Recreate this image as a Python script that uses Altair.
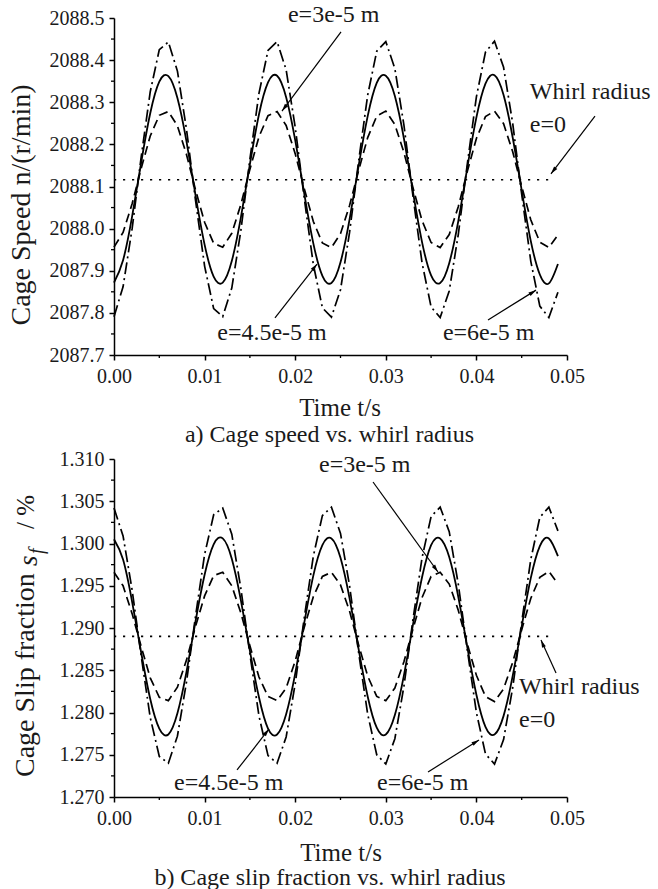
import altair as alt
import pandas as pd

FONT = "Liberation Serif"
INK = "#1a1a1a"

# ---------------- data ----------------
time_s = [0.000, 0.001, 0.002, 0.003, 0.004, 0.005, 0.006, 0.007, 0.008, 0.009,
          0.010, 0.011, 0.012, 0.013, 0.014, 0.015, 0.016, 0.017, 0.018, 0.019,
          0.020, 0.021, 0.022, 0.023, 0.024, 0.025, 0.026, 0.027, 0.028, 0.029,
          0.030, 0.031, 0.032, 0.033, 0.034, 0.035, 0.036, 0.037, 0.038, 0.039,
          0.040, 0.041, 0.042, 0.043, 0.044, 0.045, 0.046, 0.047, 0.048, 0.049]

speed_e3 = [2087.956, 2087.991, 2088.059, 2088.143, 2088.220, 2088.269, 2088.278, 2088.244, 2088.176, 2088.092,
            2088.015, 2087.965, 2087.956, 2087.989, 2088.057, 2088.141, 2088.218, 2088.268, 2088.278, 2088.245,
            2088.178, 2088.095, 2088.017, 2087.966, 2087.955, 2087.988, 2088.055, 2088.138, 2088.216, 2088.267,
            2088.279, 2088.247, 2088.181, 2088.097, 2088.019, 2087.967, 2087.955, 2087.986, 2088.052, 2088.136,
            2088.214, 2088.266, 2088.279, 2088.249, 2088.183, 2088.100, 2088.021, 2087.968, 2087.955, 2087.985]

speed_e45 = [2087.872, 2087.925, 2088.029, 2088.157, 2088.274, 2088.349, 2088.362, 2088.310, 2088.207, 2088.079,
             2087.962, 2087.886, 2087.872, 2087.923, 2088.026, 2088.153, 2088.271, 2088.347, 2088.363, 2088.312,
             2088.210, 2088.083, 2087.965, 2087.888, 2087.871, 2087.920, 2088.022, 2088.149, 2088.267, 2088.346,
             2088.363, 2088.315, 2088.214, 2088.087, 2087.968, 2087.889, 2087.871, 2087.918, 2088.018, 2088.145,
             2088.264, 2088.344, 2088.364, 2088.317, 2088.217, 2088.091, 2087.971, 2087.891, 2087.870, 2087.916]

speed_e6 = [2087.791, 2087.862, 2088.000, 2088.170, 2088.325, 2088.425, 2088.443, 2088.374, 2088.236, 2088.067,
            2087.911, 2087.810, 2087.791, 2087.859, 2087.995, 2088.165, 2088.321, 2088.423, 2088.444, 2088.377,
            2088.241, 2088.072, 2087.915, 2087.812, 2087.790, 2087.855, 2087.991, 2088.160, 2088.317, 2088.421,
            2088.444, 2088.380, 2088.246, 2088.077, 2087.919, 2087.814, 2087.789, 2087.852, 2087.986, 2088.154,
            2088.313, 2088.419, 2088.445, 2088.383, 2088.251, 2088.082, 2087.923, 2087.816, 2087.789, 2087.849]

e0_time = [0.0, 0.0486]
speed_e0 = [2088.116, 2088.116]

slip_e3 = [1.2966, 1.2950, 1.2917, 1.2878, 1.2841, 1.2818, 1.2814, 1.2830, 1.2862, 1.2902,
           1.2938, 1.2962, 1.2966, 1.2950, 1.2918, 1.2879, 1.2842, 1.2819, 1.2814, 1.2829,
           1.2861, 1.2901, 1.2937, 1.2961, 1.2966, 1.2951, 1.2920, 1.2880, 1.2843, 1.2819,
           1.2814, 1.2829, 1.2860, 1.2899, 1.2936, 1.2961, 1.2966, 1.2952, 1.2921, 1.2881,
           1.2844, 1.2819, 1.2813, 1.2828, 1.2859, 1.2898, 1.2935, 1.2960, 1.2967, 1.2952]

slip_e45 = [1.3005, 1.2981, 1.2931, 1.2871, 1.2816, 1.2781, 1.2774, 1.2799, 1.2848, 1.2908,
            1.2963, 1.2999, 1.3006, 1.2982, 1.2933, 1.2873, 1.2818, 1.2781, 1.2774, 1.2798,
            1.2846, 1.2906, 1.2962, 1.2998, 1.3006, 1.2983, 1.2935, 1.2875, 1.2819, 1.2782,
            1.2774, 1.2797, 1.2844, 1.2904, 1.2960, 1.2998, 1.3006, 1.2984, 1.2937, 1.2877,
            1.2821, 1.2783, 1.2774, 1.2796, 1.2843, 1.2902, 1.2959, 1.2997, 1.3006, 1.2985]

slip_e6 = [1.3042, 1.3009, 1.2945, 1.2867, 1.2794, 1.2748, 1.2740, 1.2772, 1.2836, 1.2914,
           1.2987, 1.3034, 1.3042, 1.3011, 1.2947, 1.2869, 1.2796, 1.2749, 1.2740, 1.2771,
           1.2834, 1.2912, 1.2985, 1.3033, 1.3043, 1.3012, 1.2950, 1.2871, 1.2798, 1.2750,
           1.2739, 1.2769, 1.2831, 1.2910, 1.2983, 1.3032, 1.3043, 1.3014, 1.2952, 1.2874,
           1.2800, 1.2751, 1.2739, 1.2768, 1.2829, 1.2907, 1.2981, 1.3031, 1.3043, 1.3015]

slip_e0 = [1.289, 1.289]

series_names = ["e=3e-5 m", "e=4.5e-5 m", "e=6e-5 m", "e=0"]
series_dash = [[9, 5], [1, 0], [12, 4, 2, 4], [2.2, 6.8]]

time_ticks = [0.00, 0.01, 0.02, 0.03, 0.04, 0.05]
time_minor = [0.005, 0.015, 0.025, 0.035, 0.045]
speed_ticks = [2087.7, 2087.8, 2087.9, 2088.0, 2088.1, 2088.2, 2088.3, 2088.4, 2088.5]
speed_minor = [2087.75, 2087.85, 2087.95, 2088.05, 2088.15, 2088.25, 2088.35, 2088.45]
slip_ticks = [1.270, 1.275, 1.280, 1.285, 1.290, 1.295, 1.300, 1.305, 1.310]
slip_minor = [1.2725, 1.2775, 1.2825, 1.2875, 1.2925, 1.2975, 1.3025, 1.3075]

# annotation labels (position in data units) and arrows (start -> tip, heading in degrees)
speed_labels = ["e=3e-5 m", "Whirl radius", "e=0", "e=4.5e-5 m", "e=6e-5 m"]
speed_label_t = [0.0192, 0.0459, 0.0459, 0.0114, 0.0363]
speed_label_v = [2088.506, 2088.324, 2088.246, 2087.752, 2087.752]
speed_arrow_t0 = [0.02506, 0.05309, 0.01777, 0.04128]
speed_arrow_v0 = [2088.467, 2088.267, 2087.788, 2087.783]
speed_arrow_t1 = [0.01854, 0.04823, 0.02241, 0.04658]
speed_arrow_v1 = [2088.279, 2088.130, 2087.916, 2087.854]
speed_arrow_ang = [216.7, 218.2, 37.9, 58.0]

slip_labels = ["e=3e-5 m", "Whirl radius", "e=0", "e=4.5e-5 m", "e=6e-5 m"]
slip_label_t = [0.02263, 0.0447, 0.0447, 0.00662, 0.02903]
slip_label_v = [1.30929, 1.28302, 1.27911, 1.27167, 1.27167]
slip_arrow_t0 = [0.02859, 0.04879, 0.01358, 0.03466]
slip_arrow_v0 = [1.30728, 1.28468, 1.27320, 1.27296]
slip_arrow_t1 = [0.03576, 0.04713, 0.01711, 0.04029]
slip_arrow_v1 = [1.29663, 1.28858, 1.27805, 1.27675]
slip_arrow_ang = [144.2, 337.4, 38.0, 57.9]

W = 453
H_TOP = 337
H_BOT = 338
ARROW = "M0,0L0.33,1.25L-0.33,1.25Z"


def series_frame(vals_list, times_list):
    frames = []
    for name, vals, ts in zip(series_names, vals_list, times_list):
        frames.append(pd.DataFrame({"t": ts, "v": vals, "series": name}))
    return pd.concat(frames, ignore_index=True)


def panel(df, ydomain, yticks, yminor, yfmt, H, labels, lt, lv, a_t0, a_v0, a_t1, a_v1, a_ang,
          title_layers, anchor):
    xscale = alt.Scale(domain=[0, 0.05], nice=False, zero=False)
    yscale = alt.Scale(domain=ydomain, nice=False, zero=False)
    xaxis = alt.Axis(values=time_ticks, format=".2f", title=None, labelFlush=False,
                     labelPadding=6)
    yaxis = alt.Axis(values=yticks, format=yfmt, title=None, labelPadding=5)

    def X(f):
        return alt.X(f, scale=xscale, axis=xaxis)

    def Y(f):
        return alt.Y(f, scale=yscale, axis=yaxis)

    curves = df[df["series"] != "e=4.5e-5 m"]
    solid = df[df["series"] == "e=4.5e-5 m"]
    dash_enc = alt.StrokeDash("series:N",
                              scale=alt.Scale(domain=series_names, range=series_dash),
                              legend=None)
    lines = alt.Chart(curves).mark_line(strokeWidth=1.7, color="black", clip=False).encode(
        x=X("t:Q"), y=Y("v:Q"), strokeDash=dash_enc)
    solid_l = alt.Chart(solid).mark_line(strokeWidth=1.8, color="black", clip=False,
                                         interpolate="natural").encode(
        x=X("t:Q"), y=Y("v:Q"))
    yminor_l = alt.Chart(pd.DataFrame({"v": yminor})).mark_rule(color="black", strokeWidth=1.3).encode(
        y=Y("v:Q"), x=alt.value(-3), x2=alt.value(0))
    xminor_l = alt.Chart(pd.DataFrame({"t": time_minor})).mark_rule(color="black", strokeWidth=1.3).encode(
        x=X("t:Q"), y=alt.value(H), y2=alt.value(H + 3))
    lab = alt.Chart(pd.DataFrame({"t": lt, "v": lv, "label": labels})).mark_text(
        align="left", baseline="middle", font=FONT, fontSize=24, color=INK, clip=False).encode(
        x=X("t:Q"), y=Y("v:Q"), text="label:N")
    adf = pd.DataFrame({"t0": a_t0, "v0": a_v0, "t1": a_t1, "v1": a_v1, "ang": a_ang})
    shafts = alt.Chart(adf).mark_rule(color="black", strokeWidth=1.2).encode(
        x=X("t0:Q"), y=Y("v0:Q"), x2="t1:Q", y2="v1:Q")
    heads = alt.Chart(adf).mark_point(shape=ARROW, filled=True, color="black", opacity=1,
                                      size=150, strokeWidth=0).encode(
        x=X("t1:Q"), y=Y("v1:Q"), angle=alt.Angle("ang:Q", scale=None))
    one = pd.DataFrame({"a": [0]})
    anchor_l = alt.Chart(one).mark_rect(opacity=0).encode(
        x=alt.value(anchor[0]), x2=alt.value(anchor[0] + 1),
        y=alt.value(anchor[1]), y2=alt.value(anchor[1] + 1))
    layers = [lines, solid_l, yminor_l, xminor_l, shafts, heads, lab, anchor_l] + title_layers
    return alt.layer(*layers).properties(width=W, height=H)


def txt(text, x, y, size, angle=0, align="center", baseline="middle", style="normal"):
    kw = dict(align=align, baseline=baseline, font=FONT, fontSize=size, color=INK,
              fontStyle=style, text=text)
    if angle:
        kw["angle"] = angle
    return alt.Chart(pd.DataFrame({"a": [0]})).mark_text(**kw).encode(
        x=alt.value(x), y=alt.value(y))


top_df = series_frame([speed_e3, speed_e45, speed_e6, speed_e0],
                      [time_s, time_s, time_s, e0_time])
bot_df = series_frame([slip_e3, slip_e45, slip_e6, slip_e0],
                      [time_s, time_s, time_s, e0_time])

top_titles = [
    txt("Cage Speed n/(r/min)", -84, 187, 28, angle=270, baseline="alphabetic"),
    txt("Time t/s", 226, 390, 25),
    txt("a) Cage speed vs. whirl radius", 215.5, 417, 24),
]
bot_titles = [
    txt("Cage Slip fraction ", -80, 318, 28, angle=270, align="left", baseline="alphabetic"),
    txt("s", -77, 107, 27, angle=270, align="left", baseline="alphabetic", style="italic"),
    txt("f", -71, 95, 20, angle=270, align="left", baseline="alphabetic", style="italic"),
    txt("/ %", -80, 70, 25, angle=270, align="left", baseline="alphabetic"),
    txt("Time t/s", 227, 394, 25),
    txt("b) Cage slip fraction vs. whirl radius", 216, 419, 24),
]

top = panel(top_df, [2087.7, 2088.5], speed_ticks, speed_minor, ".1f", H_TOP,
            speed_labels, speed_label_t, speed_label_v,
            speed_arrow_t0, speed_arrow_v0, speed_arrow_t1, speed_arrow_v1, speed_arrow_ang,
            top_titles, (-114, -18))
bottom = panel(bot_df, [1.270, 1.310], slip_ticks, slip_minor, ".3f", H_BOT,
               slip_labels, slip_label_t, slip_label_v,
               slip_arrow_t0, slip_arrow_v0, slip_arrow_t1, slip_arrow_v1, slip_arrow_ang,
               bot_titles, (543, 429))

chart = alt.vconcat(top, bottom, spacing=104, bounds="flush").properties(
    padding=0, background="white"
).configure_view(stroke=None).configure_axis(
    domainColor="black", domainWidth=1.5, tickColor="black", tickWidth=1.5, tickSize=5,
    labelFont=FONT, labelFontSize=20, labelColor=INK, grid=False
)

chart.save("out.html", embed_options={"renderer": "svg", "actions": False})
